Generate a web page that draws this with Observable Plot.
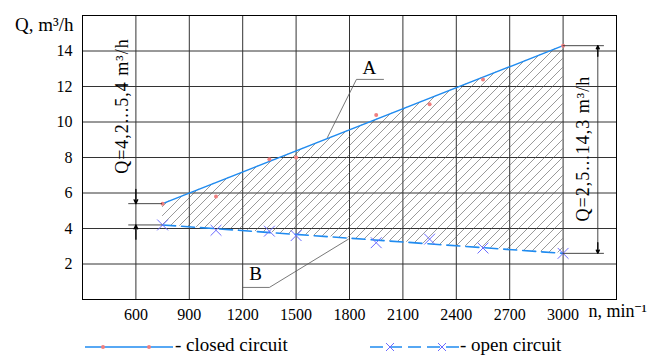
<!DOCTYPE html>
<html><head><meta charset="utf-8">
<script src="https://cdn.jsdelivr.net/npm/d3@7"></script>
<script src="https://cdn.jsdelivr.net/npm/@observablehq/plot@0.6"></script>
<style>
body{margin:0;background:#fff;font-family:"Liberation Serif","Tinos","Times New Roman","Noto Serif","DejaVu Serif",serif;}
#legend{position:relative;height:30px;width:651px;font-size:19px;color:#000;}
#legend .item{position:absolute;top:4px;display:flex;align-items:center;white-space:nowrap;}
#chart svg text{font-family:"Liberation Serif","Tinos","Times New Roman","Noto Serif","DejaVu Serif",serif;}
</style></head>
<body><div id="chart"></div><div id="legend"></div>
<script>
// ---- data ----
const xTicks = [600, 900, 1200, 1500, 1800, 2100, 2400, 2700, 3000];
const yTicks = [2, 4, 6, 8, 10, 12, 14];
const closedRpm = [750, 1050, 1350, 1500, 1950, 2250, 2550, 3000];
const closedQ   = [5.4, 5.8, 7.9, 8.0, 10.4, 11.0, 12.4, 14.3];
const openRpm   = [750, 1050, 1350, 1500, 1950, 2250, 2550, 3000];
const openQ     = [4.2, 3.9, 3.85, 3.6, 3.2, 3.4, 2.9, 2.6];
const fitRpm    = [750, 3000];
const closedFitQ = [5.4, 14.3];
const openFitQ   = [4.2, 2.6];
// annotation anchors (data units)
const leaderA = [[1676, 9.13], [1839, 12.4], [1991, 12.4]];
const labelA = [[1912, 13.05, "A"]];
const leaderB = [[1199, 0.68], [1350, 0.68], [1794, 3.4]];
const labelB = [[1272, 1.45, "B"]];
const dimLeftText = [[525, 10.9, "Q=4,2...5,4 m³/h"]];
const dimRightText = [[3115, 8.5, "Q=2,5...14,3 m³/h"]];

const closed = closedRpm.map((x, i) => ({x, y: closedQ[i]}));
const open = openRpm.map((x, i) => ({x, y: openQ[i]}));
const band = fitRpm.map((x, i) => ({x, lo: openFitQ[i], hi: closedFitQ[i]}));
const closedFit = fitRpm.map((x, i) => ({x, y: closedFitQ[i]}));
const openFit = fitRpm.map((x, i) => ({x, y: openFitQ[i]}));

const blue = "#1f8bf0", red = "#f07f7f", xcol = "#6b6bff", grid = "#333";
const font = "'Liberation Serif', 'Tinos', 'Times New Roman', 'Noto Serif', 'DejaVu Serif', serif";

const chart = Plot.plot({
  width: 651, height: 330,
  marginLeft: 82, marginRight: 35, marginTop: 15, marginBottom: 31,
  style: {fontFamily: font, fontSize: "16px", background: "#fff", color: "#000"},
  x: {domain: [300, 3300]},
  y: {domain: [0, 16]},
  marks: [
    Plot.ruleX(xTicks, {stroke: grid, strokeWidth: 1}),
    Plot.ruleY(yTicks, {stroke: grid, strokeWidth: 1}),
    Plot.areaY(band, {x: "x", y1: "lo", y2: "hi", fill: "url(#hatch)"}),
    Plot.frame({stroke: "#000", strokeWidth: 1}),
    Plot.axisX(xTicks, {tickSize: 0, tickPadding: 9, fontSize: 16, label: null, tickFormat: d => String(d)}),
    Plot.axisY(yTicks, {tickSize: 0, tickPadding: 10, fontSize: 16, label: null, tickFormat: d => String(d)}),
    Plot.text(["Q, m³/h"], {frameAnchor: "top-left", dx: -9, dy: 2, textAnchor: "end", fontSize: 19}),
    Plot.text(["n, min⁻¹"], {frameAnchor: "bottom-right", dx: -28, dy: 17, textAnchor: "start", fontSize: 18}),
    Plot.line(closedFit, {x: "x", y: "y", stroke: blue, strokeWidth: 1.4}),
    Plot.line(openFit, {x: "x", y: "y", stroke: blue, strokeWidth: 1.6, strokeDasharray: "13,6"}),
    Plot.dot(closed, {x: "x", y: "y", r: 2, fill: red}),
    Plot.dot(open, {x: "x", y: "y", symbol: "times", r: 5, stroke: xcol, strokeWidth: 1}),
    // leaders
    Plot.line(leaderA, {stroke: "#555", strokeWidth: 0.8}),
    Plot.text(labelA, {x: d => d[0], y: d => d[1], text: d => d[2], fontSize: 19}),
    Plot.line(leaderB, {stroke: "#555", strokeWidth: 0.8}),
    Plot.text(labelB, {x: d => d[0], y: d => d[1], text: d => d[2], fontSize: 19}),
    // left dimension
    Plot.ruleY([5.4, 4.2], {x1: 560, x2: 750, stroke: "#333", strokeWidth: 0.9}),
    Plot.arrow([{y1: 6.2, y2: 5.4}, {y1: 3.4, y2: 4.2}], {x: 600, y1: "y1", y2: "y2", stroke: "#000", strokeWidth: 1.3, headLength: 5, headAngle: 50}),
    Plot.text(dimLeftText, {x: d => d[0], y: d => d[1], text: d => d[2], rotate: -90, fontSize: 18}),
    // right dimension
    Plot.ruleY([14.3, 2.6], {x1: 3000, x2: 3232, stroke: "#333", strokeWidth: 0.9}),
    Plot.ruleX([3195], {y1: 2.6, y2: 14.3, stroke: "#333", strokeWidth: 0.9}),
    Plot.arrow([{y1: 13.7, y2: 14.3}, {y1: 3.2, y2: 2.6}], {x: 3195, y1: "y1", y2: "y2", stroke: "#000", strokeWidth: 1.3, headLength: 5, headAngle: 50}),
    Plot.text(dimRightText, {x: d => d[0], y: d => d[1], text: d => d[2], rotate: -90, fontSize: 18})
  ]
});
const ns = "http://www.w3.org/2000/svg";
const defs = document.createElementNS(ns, "defs");
defs.innerHTML = '<pattern id="hatch" patternUnits="userSpaceOnUse" width="9" height="9">' +
  '<path d="M-1,1 l2,-2 M0,9 l9,-9 M8,10 l2,-2" stroke="#555" stroke-width="0.6" fill="none"/></pattern>';
chart.insertBefore(defs, chart.firstChild);
chart.querySelectorAll("text").forEach(t => {
  if (t.textContent.startsWith("Q=")) t.setAttribute("letter-spacing", "1");
});
document.getElementById("chart").appendChild(chart);

// legend
const lg = document.getElementById("legend");
lg.innerHTML =
  '<div class="item" style="left:85px"><svg width="90" height="18"><line x1="0" y1="11" x2="88" y2="11" stroke="' + blue + '" stroke-width="1.4"/>' +
  '<circle cx="18" cy="11" r="2" fill="' + red + '"/><circle cx="64" cy="11" r="2" fill="' + red + '"/></svg><span>- closed circuit</span></div>' +
  '<div class="item" style="left:370px"><svg width="90" height="18"><line x1="0" y1="11" x2="90" y2="11" stroke="' + blue + '" stroke-width="1.6" stroke-dasharray="13,6"/>' +
  '<path d="M16,7 l8,8 M16,15 l8,-8 M68,7 l8,8 M68,15 l8,-8" stroke="' + xcol + '" stroke-width="1"/></svg><span>- open circuit</span></div>';
</script></body></html>
